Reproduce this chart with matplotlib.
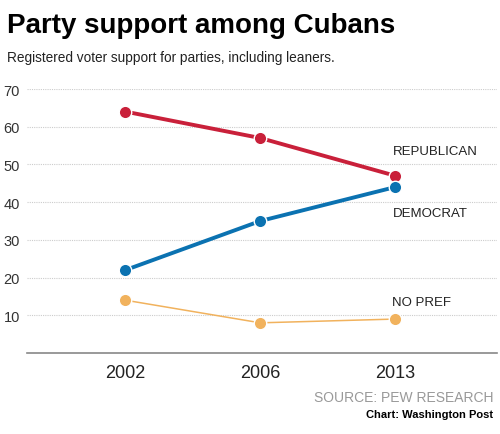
import matplotlib
matplotlib.use("Agg")
import matplotlib.pyplot as plt

years = ["2002", "2006", "2013"]
republican = [64, 57, 47]
democrat = [22, 35, 44]
no_pref = [14, 8, 9]
yticks = [10, 20, 30, 40, 50, 60, 70]

plt.rcParams['font.family'] = ['Liberation Sans', 'DejaVu Sans']

fig = plt.figure(figsize=(5.0, 4.35), dpi=100)
ax = fig.add_axes([0.054, 0.1862, 0.94, 0.6069])
x = list(range(len(years)))

red = "#c9203a"
blue = "#0b72b1"
orange = "#f1b25d"

ax.plot(x, republican, color=red, lw=2.8, marker="o", ms=9, mfc=red, mec="white", mew=1.0, zorder=3, clip_on=False)
ax.plot(x, democrat, color=blue, lw=2.8, marker="o", ms=9, mfc=blue, mec="white", mew=1.0, zorder=3, clip_on=False)
ax.plot(x, no_pref, color=orange, lw=1.1, marker="o", ms=9, mfc=orange, mec="white", mew=1.0, zorder=3, clip_on=False)

ax.set_xlim(-0.73, 2.755)
ax.set_ylim(0, 70)
ax.set_yticks(yticks)
ax.set_yticklabels([str(v) for v in yticks], fontsize=10.5, color="#333333")
ax.set_xticks(x)
ax.set_xticklabels(years, fontsize=13, color="#222222")
ax.tick_params(axis="y", length=0, pad=5)
ax.tick_params(axis="x", length=0, pad=8)
for s in ["top", "right", "left"]:
    ax.spines[s].set_visible(False)
ax.spines["bottom"].set_color("#888888")
ax.spines["bottom"].set_linewidth(1.2)
ax.grid(axis="y", linestyle=(0, (1, 1)), color="#cccccc", lw=0.8)
ax.set_axisbelow(True)

lbl = dict(fontsize=9.5, color="#222222", va="center", ha="left")
ax.text(x[2] - 0.02, 53.5, "REPUBLICAN", **lbl)
ax.text(x[2] - 0.02, 37.2, "DEMOCRAT", **lbl)
ax.text(x[2] - 0.02, 13.5, "NO PREF", **lbl)

fig.text(0.014, 1 - 26 / 435, "Party support among Cubans", fontsize=20, fontweight="bold", color="black", va="center", ha="left")
fig.text(0.014, 1 - 58 / 435, "Registered voter support for parties, including leaners.", fontsize=9.8, color="#222222", va="center", ha="left")
fig.text(0.987, 1 - 398 / 435, "SOURCE: PEW RESEARCH", fontsize=10, color="#999999", va="center", ha="right")
fig.text(0.987, 1 - 415 / 435, "Chart: Washington Post", fontsize=8, fontweight="bold", color="black", va="center", ha="right")

fig.savefig("out.png", dpi=100, facecolor="white")
